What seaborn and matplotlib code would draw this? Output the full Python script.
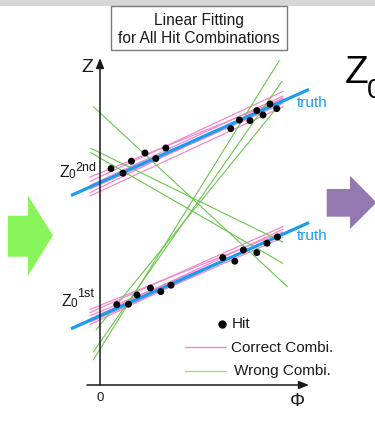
import numpy as np
import pandas as pd
import matplotlib
matplotlib.use("Agg")
import matplotlib.pyplot as plt
from matplotlib.patches import Polygon, Rectangle
from matplotlib.lines import Line2D
import seaborn as sns

# ---- data -------------------------------------------------------------
# hits on the first and second tracks (phi, z)
hit_phi_1st = [0.84, 1.42, 1.85, 2.52, 3.04, 3.55, 6.14, 6.74, 7.17, 7.84, 8.35, 8.87]
hit_z_1st = [4.02, 4.04, 4.50, 4.85, 4.67, 4.99, 6.37, 6.19, 6.75, 6.62, 7.09, 7.40]
hit_phi_2nd = [0.55, 1.15, 1.57, 2.25, 2.79, 3.29, 6.54, 6.97, 7.50, 7.84, 8.15, 8.50, 8.84]
hit_z_2nd = [10.82, 10.59, 11.19, 11.60, 11.32, 11.85, 12.82, 13.25, 13.22, 13.72, 13.50, 14.05, 13.82]

# true tracks: z = z0 + slope * phi
truth_z0 = [3.46, 10.12]
truth_slope = [0.446, 0.446]
truth_phi = [-1.45, 10.45]

# fits to correct hit combinations (z at both ends of the phi range)
correct_phi = [-0.5, 9.15]
correct_z_start_1st = [3.78, 3.62, 3.46, 3.30, 3.14, 3.02]
correct_z_end_1st = [7.65, 7.92, 7.50, 7.78, 7.38, 7.60]
correct_z_start_2nd = [10.40, 10.18, 9.98, 9.80, 9.62, 9.45]
correct_z_end_2nd = [14.30, 14.68, 14.45, 14.08, 14.36, 13.92]

# fits to wrong hit combinations
wrong_phi_start = [-0.335, -0.465, -0.465, -0.335, -0.335, -0.20]
wrong_z_start = [13.92, 11.84, 11.62, 1.25, 1.65, 2.75]
wrong_phi_end = [9.365, 9.135, 9.135, 8.965, 9.085, 9.20]
wrong_z_end = [4.92, 7.15, 6.09, 16.22, 15.17, 14.30]

legend_labels = ["Hit", "Correct Combi.", "Wrong Combi."]

# ---- styling ----------------------------------------------------------
sns.set_theme(style="white")
plt.rcParams["font.family"] = ["Liberation Sans", "DejaVu Sans"]

PINK = "#f389cb"
GREEN = "#6cc64e"
BLUE = "#1a9cf0"
INK = "#1a1a1a"

W, H = 375, 437
fig = plt.figure(figsize=(W / 100, H / 100), dpi=100)
fig.patch.set_facecolor("white")


def fp(x, y):
    """pixel position -> figure fraction"""
    return (x / W, 1 - y / H)


ax = fig.add_axes([0, 0, 1, 1])
ax.set_xlim(-5, 13.75)
ax.set_ylim(-2.6, 19.25)
ax.axis("off")

# ---- line tables ------------------------------------------------------
rows = []
for k, (zs, ze) in enumerate(zip(correct_z_start_1st + correct_z_start_2nd,
                                 correct_z_end_1st + correct_z_end_2nd)):
    rows.append(dict(line=f"c{k}", phi=correct_phi[0], z=zs))
    rows.append(dict(line=f"c{k}", phi=correct_phi[1], z=ze))
correct_df = pd.DataFrame(rows)

rows = []
for k, (p0, z0, p1, z1) in enumerate(zip(wrong_phi_start, wrong_z_start,
                                         wrong_phi_end, wrong_z_end)):
    rows.append(dict(line=f"w{k}", phi=p0, z=z0))
    rows.append(dict(line=f"w{k}", phi=p1, z=z1))
wrong_df = pd.DataFrame(rows)

rows = []
for k, (z0, s) in enumerate(zip(truth_z0, truth_slope)):
    for p in truth_phi:
        rows.append(dict(line=f"t{k}", phi=p, z=z0 + s * p))
truth_df = pd.DataFrame(rows)

hits_df = pd.DataFrame({"phi": hit_phi_1st + hit_phi_2nd,
                        "z": hit_z_1st + hit_z_2nd})

sns.lineplot(data=correct_df, x="phi", y="z", units="line", estimator=None,
             color=PINK, lw=0.9, ax=ax, legend=False, zorder=2)
sns.lineplot(data=wrong_df, x="phi", y="z", units="line", estimator=None,
             color=GREEN, lw=0.8, ax=ax, legend=False, zorder=3)
sns.lineplot(data=truth_df, x="phi", y="z", units="line", estimator=None,
             color=BLUE, lw=2.3, ax=ax, legend=False, zorder=4,
             solid_capstyle="butt")
sns.scatterplot(data=hits_df, x="phi", y="z", s=25, color="black",
                edgecolor="none", ax=ax, zorder=6, legend=False)
ax.set_xlabel("")
ax.set_ylabel("")

# ---- axes with arrows -------------------------------------------------
arrow = dict(arrowstyle="-|>,head_length=0.5,head_width=0.2", color=INK,
             lw=1.1, shrinkA=0, shrinkB=0)
ax.annotate("", xy=(0, 16.35), xytext=(0, 0), arrowprops=arrow, zorder=7)
ax.annotate("", xy=(10.45, 0), xytext=(-0.65, 0), arrowprops=arrow, zorder=7)

fig.text(*fp(87.5, 67), "Z", fontsize=14, ha="center", va="center", color=INK)
fig.text(*fp(297, 401), "Φ", fontsize=13.5, ha="center", va="center", color=INK)
fig.text(*fp(100, 398), "0", fontsize=9.5, ha="center", va="center", color=INK)

# intercept labels
fig.text(*fp(60, 177), "Z", fontsize=11.5, ha="left", va="baseline", color=INK)
fig.text(*fp(68.5, 178), "0", fontsize=8.5, ha="left", va="baseline", color=INK)
fig.text(*fp(75.5, 171), "2nd", fontsize=9, ha="left", va="baseline", color=INK)
fig.text(*fp(61.5, 306), "Z", fontsize=11.5, ha="left", va="baseline", color=INK)
fig.text(*fp(70.5, 307), "0", fontsize=8.5, ha="left", va="baseline", color=INK)
fig.text(*fp(77.5, 297), "1st", fontsize=9, ha="left", va="baseline", color=INK)

# truth labels
fig.text(*fp(296.5, 103), "truth", fontsize=11, ha="left", va="center", color=BLUE)
fig.text(*fp(296.5, 236), "truth", fontsize=11, ha="left", va="center", color=BLUE)

# ---- legend -----------------------------------------------------------
fig.add_artist(Line2D([221.7 / W], [1 - 324 / H], marker="o", ms=5,
                      color="black", lw=0, transform=fig.transFigure))
fig.add_artist(Line2D([185 / W, 226 / W], [1 - 346.7 / H] * 2, color=PINK,
                      lw=1.0, transform=fig.transFigure))
fig.add_artist(Line2D([185 / W, 226 / W], [1 - 370.7 / H] * 2, color="#9be07f",
                      lw=1.0, transform=fig.transFigure))
fig.text(*fp(232, 324.5), legend_labels[0], fontsize=11, ha="left", va="center", color=INK)
fig.text(*fp(231, 347.5), legend_labels[1], fontsize=11, ha="left", va="center", color=INK)
fig.text(*fp(234, 371.5), legend_labels[2], fontsize=11, ha="left", va="center", color=INK)

# ---- slide decorations ------------------------------------------------
fig.add_artist(Rectangle((0, 1 - 6 / H), 1, 6 / H, transform=fig.transFigure,
                         facecolor="#d6d6d6", edgecolor="none"))
fig.add_artist(Rectangle((111 / W, 1 - 50 / H), 176 / W, 44 / H,
                         transform=fig.transFigure, facecolor="white",
                         edgecolor="#7a7a7a", lw=1.0))
fig.text(*fp(199, 20.5), "Linear Fitting", fontsize=11.2, ha="center", va="center", color=INK)
fig.text(*fp(199, 38.5), "for All Hit Combinations", fontsize=11.2, ha="center", va="center", color=INK)

green_arrow = [(8, 215.7), (28, 215.7), (28, 195.7), (53, 235.5),
               (28, 275.7), (28, 256.7), (8, 256.7)]
purple_arrow = [(326.7, 189), (350, 189), (350, 175.7), (376.5, 202.5),
                (350, 229), (350, 216.7), (326.7, 216.7)]
fig.add_artist(Polygon([fp(x, y) for x, y in green_arrow], closed=True,
                       transform=fig.transFigure, facecolor="#87f55a",
                       edgecolor="none"))
fig.add_artist(Polygon([fp(x, y) for x, y in purple_arrow], closed=True,
                       transform=fig.transFigure, facecolor="#9479b1",
                       edgecolor="none"))

# large heading running off the right edge of the slide
fig.text(*fp(345, 83), "Z", fontsize=28, ha="left", va="baseline", color="black")
fig.text(*fp(367, 98), "0", fontsize=20, ha="left", va="baseline", color="black")

fig.savefig("out.png", dpi=100, facecolor="white")
